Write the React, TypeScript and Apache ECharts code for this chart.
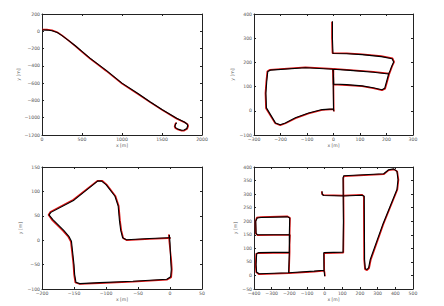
import React, { useEffect, useRef } from "react";
import * as echarts from "echarts";

// Track 1 (top-left)
const t1Est = [[0,15],[60,14],[125,7],[190,-15],[250,-50],[330,-105],[417,-167],[500,-232],[600,-310],[687,-371],[800,-450],[1000,-600],[1200,-720],[1350,-815],[1500,-905],[1684,-1007],[1780,-1050],[1815,-1075],[1821,-1093],[1810,-1125],[1775,-1143],[1746,-1145],[1700,-1132],[1670,-1115],[1662,-1100],[1670,-1075],[1684,-1058]];
const t1Ref = [[0,20],[60,20],[125,12],[190,-11],[250,-48],[330,-106],[417,-171],[500,-238],[600,-316],[687,-378],[800,-457],[1000,-606],[1200,-726],[1350,-819],[1500,-910],[1684,-1012],[1785,-1055],[1822,-1078],[1828,-1096],[1815,-1130],[1778,-1150],[1746,-1151],[1698,-1138],[1665,-1119],[1657,-1100],[1666,-1072],[1680,-1055]];

// Track 2 (top-right)
const t2Est = [[-4,370],[-4,300],[-2,237],[50,236],[108,232],[180,224],[221,215],[227,202],[220,185],[214,168],[208,152],[200,120],[193,93],[183,87],[150,95],[108,103],[50,108],[1,111],[0,140],[-2,172],[-106,178],[-238,168],[-248,162],[-252,120],[-255,73],[-253,12],[-219,-50],[-201,-58],[-182,-50],[-144,-29],[-94,-9],[-43,5],[0,8],[1,-2],[0,8],[-1,100],[-1,172],[50,168],[100,164],[150,159],[208,152]];
const t2Ref = [[-6,368],[-6,300],[-4,238],[50,238],[108,234],[180,226],[223,217],[229,202],[222,185],[216,168],[210,150],[202,118],[195,91],[183,85],[150,93],[108,101],[50,106],[-1,109],[-2,140],[-3,174],[-106,180],[-240,170],[-250,163],[-254,120],[-257,73],[-255,10],[-220,-52],[-201,-60],[-181,-52],[-143,-31],[-94,-11],[-43,3],[1,6],[2,-3],[1,6],[0,100],[0,174],[50,170],[100,166],[150,161],[210,154]];

// Track 3 (bottom-left)
const t3Est = [[-1,11],[0,-5],[1,-40],[2,-60],[1,-75],[-5,-80],[-58,-84],[-110,-87],[-141,-89],[-147,-86],[-149,-70],[-150,-50],[-152,-26],[-154,-2],[-158,8],[-166,20],[-183,42],[-189,52],[-186,57],[-150,82],[-113,121],[-107,121],[-100,114],[-86,90],[-81,70],[-79,40],[-77,20],[-74,5],[-68,1],[-32,3.5],[-3,5],[1,5]];
const t3Ref = [[-2,12],[-1,-5],[2,-40],[3,-60],[2,-76],[-5,-81],[-58,-85],[-110,-88],[-141,-90],[-148,-87],[-150,-70],[-151,-50],[-153,-26],[-155,-3],[-159,7],[-167,19],[-184,41],[-190,52],[-187,58],[-151,83],[-113,122],[-106,122],[-99,114],[-85,90],[-80,70],[-78,40],[-76,20],[-73,4],[-68,0],[-32,2.5],[-3,4],[1,4]];

// Track 4 (bottom-right)
const t4Est = [[0,-3],[-2,10],[-4,19],[-60,16],[-204,10],[-370,6],[-385,12],[-388,40],[-385,80],[-375,84],[-200,86],[-198,150],[-380,150],[-388,155],[-390,200],[-382,212],[-360,214],[-210,216],[-198,212],[-200,150],[-200,86],[-204,10],[-60,16],[-4,19],[-5,84],[104,86],[106,200],[104,360],[108,368],[334,375],[362,390],[391,393],[409,384],[415,353],[409,317],[330,190],[258,59],[249,29],[240,22],[230,25],[226,59],[224,292],[211,296],[108,293],[-5,295],[-13,298],[-15,310]];
const t4Ref = [[2,-3],[0,10],[-2,17],[-60,14],[-204,8],[-372,4],[-388,12],[-391,40],[-388,80],[-377,82],[-200,84],[-196,150],[-380,148],[-390,155],[-392,200],[-384,214],[-360,216],[-210,218],[-196,212],[-198,150],[-198,86],[-202,8],[-60,14],[-2,17],[-3,82],[106,84],[108,200],[106,360],[110,366],[334,373],[363,388],[391,391],[411,384],[418,353],[412,317],[333,190],[262,59],[252,27],[240,19],[228,23],[223,59],[221,292],[211,298],[108,295],[-5,297],[-15,300],[-17,310]];

const xMins = [0, -300, -200, -400];
const xMaxs = [2000, 300, 50, 500];
const xSteps = [500, 100, 50, 100];
const yMins = [-1200, -100, -100, -50];
const yMaxs = [200, 400, 150, 400];
const ySteps = [200, 100, 50, 50];

const fmt = (v: number) => (v < 0 ? "\u2212" + Math.abs(v) : String(v));

export default function App() {
  const ref = useRef<HTMLDivElement>(null);
  useEffect(() => {
    const chart = echarts.init(ref.current!, undefined, { renderer: "svg" });
    const grids = [
      { left: 42, top: 14, width: 160, height: 121 },
      { left: 254, top: 14, width: 159, height: 121 },
      { left: 42, top: 167, width: 160, height: 122 },
      { left: 254, top: 167, width: 159, height: 122 },
    ];
    const yGaps = [18, 13, 15, 14];
    const lineCol = "#222";
    const txt = { fontSize: 4.6, color: "#555555", fontFamily: "DejaVu Sans" };
    const lab = { ...txt, formatter: fmt, margin: 2 };
    const xAxis: any[] = [];
    const yAxis: any[] = [];
    grids.forEach((_, g) => {
      const common = {
        type: "value",
        gridIndex: g,
        splitLine: { show: false },
        axisLine: { show: true, onZero: false, lineStyle: { color: lineCol, width: 1 } },
        axisTick: { show: true, inside: true, length: 2, lineStyle: { color: lineCol } },
      };
      xAxis.push({
        ...common, position: "bottom", min: xMins[g], max: xMaxs[g], interval: xSteps[g],
        axisLabel: lab, name: "x [m]", nameLocation: "middle", nameGap: 8,
        nameTextStyle: { ...txt },
      });
      xAxis.push({
        ...common, position: "top", min: xMins[g], max: xMaxs[g], interval: xSteps[g],
        axisLabel: { show: false },
      });
      yAxis.push({
        ...common, position: "left", min: yMins[g], max: yMaxs[g], interval: ySteps[g],
        axisLabel: lab, name: "y [m]", nameLocation: "middle", nameGap: yGaps[g], nameRotate: 90,
        nameTextStyle: { ...txt },
      });
      yAxis.push({
        ...common, position: "right", min: yMins[g], max: yMaxs[g], interval: ySteps[g],
        axisLabel: { show: false },
      });
    });
    const refs = [t1Ref, t2Ref, t3Ref, t4Ref];
    const ests = [t1Est, t2Est, t3Est, t4Est];
    const series: any[] = [];
    grids.forEach((_, g) => {
      series.push({
        type: "line", xAxisIndex: 2 * g, yAxisIndex: 2 * g, data: refs[g], showSymbol: false,
        lineStyle: { color: "#dd1111", width: 1.5 }, z: 2,
      });
      series.push({
        type: "line", xAxisIndex: 2 * g, yAxisIndex: 2 * g, data: ests[g], showSymbol: false,
        lineStyle: { color: "#000", width: 1.1 }, z: 3,
      });
    });
    chart.setOption({ animation: false, grid: grids, xAxis, yAxis, series });
    return () => chart.dispose();
  }, []);
  return (
    <div
      ref={ref}
      style={{ position: "fixed", left: 0, top: 0, width: 444, height: 306, background: "#fff" }}
    />
  );
}
